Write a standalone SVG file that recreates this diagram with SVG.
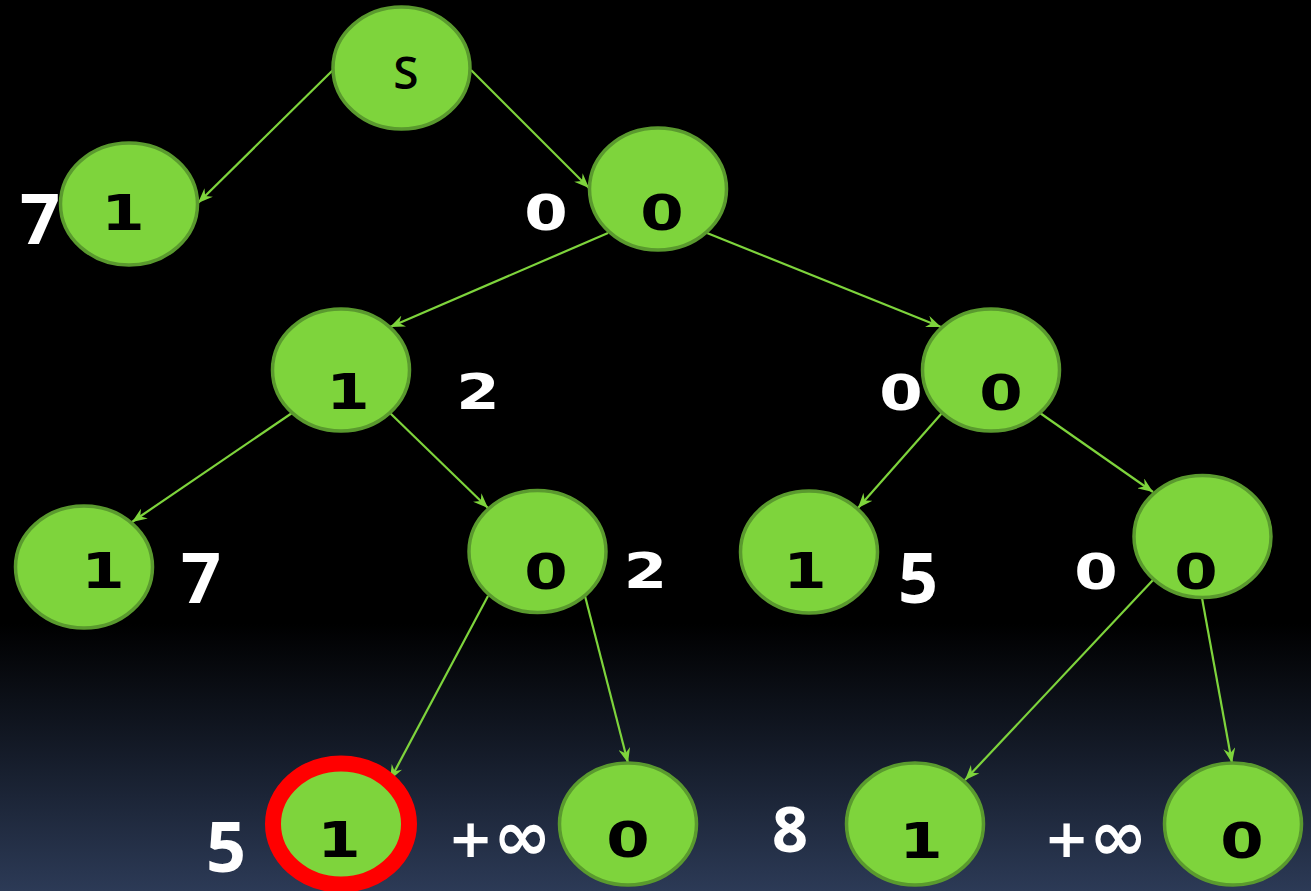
<svg xmlns="http://www.w3.org/2000/svg" width="1311" height="891" viewBox="0 0 1311 891">
<defs>
<linearGradient id="bg" x1="0" y1="0" x2="0" y2="1">
<stop offset="0" stop-color="#000000"/>
<stop offset="0.7" stop-color="#000000"/>
<stop offset="0.85" stop-color="#151c2a"/>
<stop offset="1" stop-color="#2c3a56"/>
</linearGradient>
<marker id="arr" markerUnits="userSpaceOnUse" markerWidth="16" markerHeight="12" viewBox="0 0 16 12" refX="15" refY="6" orient="auto">
<path d="M0,0 L15,6 L0,12 L5,6 Z" fill="#7ed43c"/>
</marker>
</defs>
<style>
.node{fill:#7ed43c;stroke:#5a9a2e;stroke-width:3.5}
.edge{stroke:#7ed43c;stroke-width:2.2;fill:none;marker-end:url(#arr)}
.d{font-family:"DejaVu Sans",Verdana,sans-serif;font-weight:bold;font-size:50px;text-anchor:middle;fill:#000}
.w{font-family:"DejaVu Sans",Verdana,sans-serif;font-weight:bold;font-size:50px;text-anchor:middle;fill:#fff}
.inf{font-family:"DejaVu Sans",Verdana,sans-serif;font-weight:bold;font-size:54px;fill:#fff}
.big{font-size:70px}
.c{font-family:"Open Sans","Noto Sans",sans-serif;font-weight:700;font-size:70px;text-anchor:middle;fill:#fff}
</style>
<rect x="0" y="0" width="1311" height="891" fill="url(#bg)"/>
<g id="connectors">
<line class="edge" x1="333" y1="70" x2="198" y2="203"/>
<line class="edge" x1="471" y1="70" x2="589" y2="188"/>
<line class="edge" x1="608" y1="233" x2="390" y2="327"/>
<line class="edge" x1="707" y1="233" x2="941" y2="327"/>
<line class="edge" x1="292" y1="413" x2="132" y2="522"/>
<line class="edge" x1="390" y1="413" x2="488" y2="508"/>
<line class="edge" x1="942" y1="413" x2="858" y2="508"/>
<line class="edge" x1="1040" y1="413" x2="1153" y2="492"/>
<line class="edge" x1="488" y1="596" x2="390" y2="780"/>
<line class="edge" x1="585" y1="596" x2="628" y2="763"/>
<line class="edge" x1="1153" y1="580" x2="965" y2="780"/>
<line class="edge" x1="1202" y1="598" x2="1232" y2="763"/>
</g>
<g id="node-s">
<ellipse class="node" cx="401.5" cy="68" rx="68.5" ry="61"/>
<text x="406" y="89" style="font-family:'Open Sans','Noto Sans',sans-serif;font-weight:600;font-size:46px;text-anchor:middle;fill:#000">S</text>
</g>
<g id="node-a">
<ellipse class="node" cx="129" cy="204" rx="68.5" ry="61"/>
<text class="d" transform="translate(123,230) scale(1.25,1)">1</text>
<text class="c" x="40" y="244">7</text>
</g>
<g id="node-b">
<ellipse class="node" cx="658" cy="189" rx="68.5" ry="61"/>
<text class="d" transform="translate(662,230) scale(1.25,1)">0</text>
<text class="w" transform="translate(546,230) scale(1.25,1)">0</text>
</g>
<g id="node-c">
<ellipse class="node" cx="341" cy="370" rx="68.5" ry="61"/>
<text class="d" transform="translate(348,409) scale(1.25,1)">1</text>
<text class="w" transform="translate(478,409) scale(1.25,1)">2</text>
</g>
<g id="node-d">
<ellipse class="node" cx="991" cy="370" rx="68.5" ry="61"/>
<text class="d" transform="translate(1001,410) scale(1.25,1)">0</text>
<text class="w" transform="translate(901,410) scale(1.25,1)">0</text>
</g>
<g id="node-e">
<ellipse class="node" cx="84" cy="567" rx="68.5" ry="61"/>
<text class="d" transform="translate(103,588) scale(1.25,1)">1</text>
<text class="c" x="201" y="603">7</text>
</g>
<g id="node-f">
<ellipse class="node" cx="537.5" cy="551.5" rx="68.5" ry="61"/>
<text class="d" transform="translate(546,589) scale(1.25,1)">0</text>
<text class="w" transform="translate(645.5,588) scale(1.25,1)">2</text>
</g>
<g id="node-g">
<ellipse class="node" cx="809" cy="552" rx="68.5" ry="61"/>
<text class="d" transform="translate(805,588) scale(1.25,1)">1</text>
<text class="c" x="918" y="603">5</text>
</g>
<g id="node-h">
<ellipse class="node" cx="1202.5" cy="536.5" rx="68.5" ry="61"/>
<text class="d" transform="translate(1196,589) scale(1.25,1)">0</text>
<text class="w" transform="translate(1096,589) scale(1.25,1)">0</text>
</g>
<g id="node-i">
<ellipse cx="341" cy="824" rx="68" ry="60.5" fill="#7ed43c" stroke="#ff0000" stroke-width="16"/>
<text class="d" transform="translate(339,857) scale(1.25,1)">1</text>
<text class="c" x="226" y="872">5</text>
</g>
<g id="node-j">
<ellipse class="node" cx="628" cy="824" rx="68.5" ry="61"/>
<text class="d" transform="translate(628,857) scale(1.25,1)">0</text>
<text class="inf" x="448" y="857">+<tspan class="big" y="860">∞</tspan></text>
</g>
<g id="node-k">
<ellipse class="node" cx="915" cy="824" rx="68.5" ry="61"/>
<text class="d" transform="translate(921,858) scale(1.25,1)">1</text>
<text class="c" x="790" y="852" style="font-size:63px">8</text>
</g>
<g id="node-l">
<ellipse class="node" cx="1233" cy="824" rx="68.5" ry="61"/>
<text class="d" transform="translate(1242,858) scale(1.25,1)">0</text>
<text class="inf" x="1044" y="857">+<tspan class="big" y="860">∞</tspan></text>
</g>
</svg>
